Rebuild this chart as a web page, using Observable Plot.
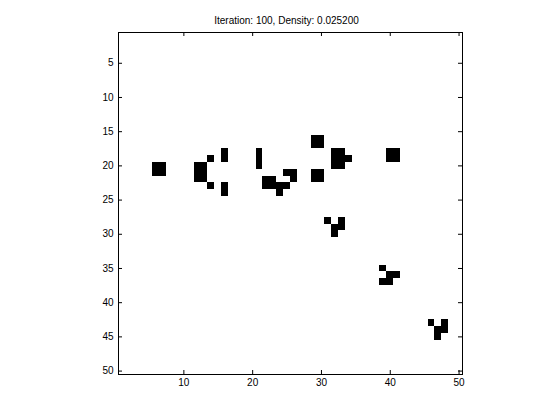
<!DOCTYPE html>
<html><head><meta charset="utf-8">
<script src="https://cdn.jsdelivr.net/npm/d3@7"></script>
<script src="https://cdn.jsdelivr.net/npm/@observablehq/plot@0.6"></script>
<style>body{margin:0;background:#fff}</style>
</head><body><div id="chart"></div>
<script>
const gridSize = 50;
const titleText = "Iteration: 100, Density: 0.025200";
// live cells (column, row) of the 50x50 board
const aliveCol = [6,7,6,7, 12,13,12,13,12,13, 14,14, 16,16,16,16, 21,21,21,
  22,23,22,23,24,25,24,25,26,26, 29,30,29,30, 32,33,32,33,32,33,34,
  29,30,29,30, 40,41,40,41, 31,33,32,33,32, 39,40,41,39,40, 46,48,47,48,47];
const aliveRow = [20,20,21,21, 20,20,21,21,22,22, 19,23, 18,19,23,24, 18,19,20,
  22,22,23,23,23,23,24,21,21,22, 16,16,17,17, 18,18,19,19,20,20,19,
  21,21,22,22, 18,18,19,19, 28,28,29,29,30, 35,36,36,37,37, 43,43,44,44,45];
const xTicks = [10, 20, 30, 40, 50];
const yTicks = [5, 10, 15, 20, 25, 30, 35, 40, 45, 50];

const cells = aliveCol.map((c, i) => ({col: c, row: aliveRow[i]}));

const W = 560, H = 420, mT = 32, mB = 46, mL = 118, mR = 98;
const fh = H - mT - mB, fw = W - mL - mR, tick = 4;

const chart = Plot.plot({
  width: W, height: H,
  marginTop: mT, marginBottom: mB, marginLeft: mL, marginRight: mR,
  style: {fontFamily: "'Liberation Sans', Arial, Helvetica, sans-serif", fontSize: "10px", color: "black", background: "white"},
  x: {domain: [0.5, gridSize + 0.5]},
  y: {domain: [0.5, gridSize + 0.5], reverse: true},
  marks: [
    Plot.rect(cells, {x1: d => d.col - 0.5, x2: d => d.col + 0.5, y1: d => d.row - 0.5, y2: d => d.row + 0.5, fill: "black", shapeRendering: "crispEdges"}),
    Plot.frame({stroke: "black"}),
    Plot.tickX(xTicks, {x: d => d, insetTop: fh - tick, stroke: "black"}),
    Plot.tickX(xTicks, {x: d => d, insetBottom: fh - tick, stroke: "black"}),
    Plot.tickY(yTicks, {y: d => d, insetRight: fw - tick, stroke: "black"}),
    Plot.tickY(yTicks, {y: d => d, insetLeft: fw - tick, stroke: "black"}),
    Plot.axisX(xTicks, {tickSize: 0, tickPadding: 4, label: null}),
    Plot.axisY(yTicks, {tickSize: 0, tickPadding: 5, label: null}),
    Plot.text([titleText], {text: d => d, frameAnchor: "top", dy: -12, dx: -4, lineAnchor: "middle", fontSize: 10, fill: "black"})
  ]
});
document.getElementById("chart").append(chart);
</script>
</body></html>
